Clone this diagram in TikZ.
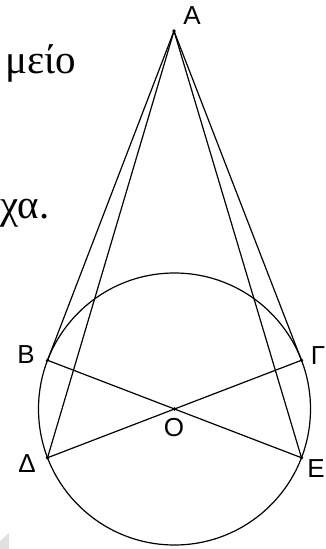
\documentclass[tikz,border=0pt]{standalone}
\usepackage{fontspec}
\setmainfont{Liberation Serif}
\newfontfamily\greekserif{Liberation Serif}
\newfontfamily\labelfont{Liberation Sans}
\usetikzlibrary{calc}
\begin{document}
\begin{tikzpicture}[x=1pt,y=-1pt,
  geo/.style={line width=1.2pt, black},
  pt/.style={circle, fill=black, inner sep=0pt, minimum size=3.6pt},
  lbl/.style={font=\labelfont\fontsize{26}{26}\selectfont, inner sep=0pt},
  txt/.style={font=\greekserif\fontsize{41}{41}\selectfont, inner sep=0pt}]
\useasboundingbox (0,0) rectangle (325,549);
% cropped page text
\node[txt, anchor=base east] (t1) at (76,73) {μείο};
\node[txt, anchor=base west] (t2) at (0,218) {χα.};
% grey corner artefact
\fill[black!12] (0,541) -- (9,533) -- (9,549) -- (0,549) -- cycle;
% geometry
\coordinate (O) at (174.5,409);
\draw[geo] (O) circle (136);
\node[pt] (A) at (174,31) {};
\node[pt] (B) at ($(O)+(159:136)$) {};
\node[pt] (G) at ($(O)+(21:136)$) {};
\node[pt] (D) at ($(O)+(201:136)$) {};
\node[pt] (E) at ($(O)+(-21:136)$) {};
\node[pt] (Oc) at (O) {};
\draw[geo] (A.center) -- (B.center);
\draw[geo] (A.center) -- (D.center);
\draw[geo] (A.center) -- (G.center);
\draw[geo] (A.center) -- (E.center);
\draw[geo] (B.center) -- (E.center);
\draw[geo] (G.center) -- (D.center);
% labels
\node[lbl] (lA) at (192,16) {A};
\node[lbl] (lB) at (26,355) {B};
\node[lbl] (lG) at (318,356) {Γ};
\node[lbl] (lD) at (27,464) {Δ};
\node[lbl, anchor=east] (lE) at (325,469) {E};
\node[lbl] (lO) at (174,428) {O};
\end{tikzpicture}
\end{document}
